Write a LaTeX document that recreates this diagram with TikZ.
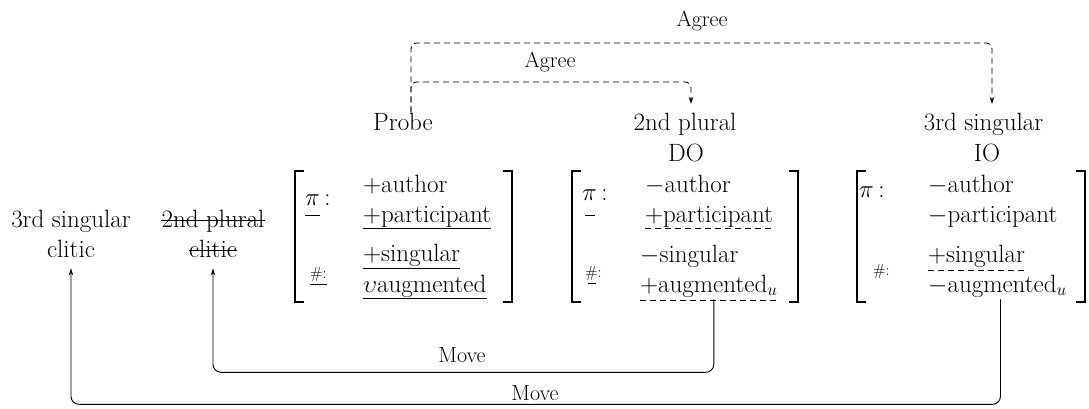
\documentclass[tikz,border=0pt]{standalone}
\usetikzlibrary{arrows.meta}
\begin{document}
\begin{tikzpicture}[x=1pt,y=-1pt,
  txt/.style={inner sep=0pt, font=\fontsize{25}{30}\selectfont},
  lbl/.style={inner sep=0pt, font=\fontsize{22}{26}\selectfont},
  sm/.style={inner sep=0pt, font=\fontsize{16}{19}\selectfont},
  agree/.style={line width=0.9pt, dash pattern=on 6pt off 4pt, rounded corners=6pt, -{Stealth[length=7pt,width=4.5pt]}},
  move/.style={line width=0.9pt, rounded corners=8pt, -{Stealth[length=7pt,width=4.5pt]}},
  brk/.style={line width=1.7pt},
  ul/.style={line width=0.9pt},
  dul/.style={line width=0.9pt, dash pattern=on 6pt off 4pt},
  strike/.style={line width=0.9pt}
]
\useasboundingbox (0,0) rectangle (1089,408);

% top labels
\node[txt, anchor=base] (probe) at (403,130) {Probe};
\node[txt, anchor=base] (dopl) at (685,130) {2nd plural};
\node[txt, anchor=base] (doo) at (686,161) {DO};
\node[txt, anchor=base] (iopl) at (983.5,130) {3rd singular};
\node[txt, anchor=base] (ioo) at (987,161) {IO};
\node[lbl] (agreeout) at (702,21) {Agree};
\node[lbl] (agreein) at (550,62) {Agree};

% clitics
\node[txt, anchor=base] (cl3a) at (71,227) {3rd singular};
\node[txt, anchor=base] (cl3b) at (71,257) {clitic};
\node[txt, anchor=base] (cl2a) at (213,227) {2nd plural};
\node[txt, anchor=base] (cl2b) at (213,257) {clitic};
\draw[strike] ([yshift=7pt]cl2a.base west) -- ([yshift=7pt]cl2a.base east);
\draw[strike] ([yshift=7pt]cl2b.base west) -- ([yshift=7pt]cl2b.base east);

% matrix 1
\draw[brk] (304,171) -- (295,171) -- (295,302) -- (304,302);
\draw[brk] (503,171) -- (512,171) -- (512,302) -- (503,302);
\node[txt, anchor=base west] (pi1) at (305,205) {$\pi$};
\node[txt, anchor=base west] (pc1) at (pi1.base east) {\,:};
\node[sm, anchor=base west] (hash1) at (310,278) {\#:};
\node[txt, anchor=base west] (a1) at (363,192) {+author};
\node[txt, anchor=base west] (p1) at (363,222) {+participant};
\node[txt, anchor=base west] (s1) at (363,261) {+singular};
\node[txt, anchor=base west] (u1) at (363,292) {$\upsilon$augmented};
\draw[ul] ([yshift=-10pt]pi1.base west) -- ([yshift=-10pt]pi1.base east);
\draw[ul] ([yshift=-6pt]hash1.base west) -- ([yshift=-6pt]hash1.base east);
\draw[ul] ([yshift=-6pt]p1.base west) -- ([yshift=-6pt]p1.base east);
\draw[ul] ([yshift=-7pt]s1.base west) -- ([yshift=-7pt]s1.base east);
\draw[ul] ([yshift=-6pt]u1.base west) -- ([yshift=-6pt]u1.base east);

% matrix 2
\draw[brk] (581,171) -- (572,171) -- (572,302) -- (581,302);
\draw[brk] (789,171) -- (798,171) -- (798,302) -- (789,302);
\node[txt, anchor=base west] (pi2) at (582,200) {$\pi$};
\node[txt, anchor=base west] (pc2) at (pi2.base east) {\,:};
\node[sm, anchor=base west] (hash2) at (585,277) {\#:};
\node[txt, anchor=base west] (a2) at (645,192) {$-$author};
\node[txt, anchor=base west] (p2) at (645,222) {+participant};
\node[txt, anchor=base west] (s2) at (640,262) {$-$singular};
\node[txt, anchor=base west] (g2) at (640,292) {+augmented$_u$};
\draw[ul] ([xshift=3pt,yshift=-15pt]pi2.base west) -- ([xshift=-2pt,yshift=-15pt]pi2.base east);
\draw[ul] ([xshift=3pt,yshift=-6pt]hash2.base west) -- ([xshift=11pt,yshift=-6pt]hash2.base west);
\draw[dul] ([yshift=-6pt]p2.base west) -- ([yshift=-6pt]p2.base east);
\draw[dul] ([yshift=-8pt]g2.base west) -- ([yshift=-8pt]g2.base east);

% matrix 3
\draw[brk] (866,171) -- (857,171) -- (857,302) -- (866,302);
\draw[brk] (1076,171) -- (1085,171) -- (1085,302) -- (1076,302);
\node[txt, anchor=base west] (pi3) at (859,197) {$\pi$};
\node[txt, anchor=base west] (pc3) at (pi3.base east) {\,:};
\node[sm, anchor=base west] (hash3) at (873,275) {\#:};
\node[txt, anchor=base west] (a3) at (928,192) {$-$author};
\node[txt, anchor=base west] (p3) at (928,222) {$-$participant};
\node[txt, anchor=base west] (s3) at (928,262) {+singular};
\node[txt, anchor=base west] (g3) at (928,292) {$-$augmented$_u$};
\draw[dul] ([yshift=-8pt]s3.base west) -- ([yshift=-8pt]s3.base east);

% Agree arrows
\draw[agree] ([xshift=8pt]probe.north) -- ++(0,-30.5) -| ([xshift=6pt,yshift=8.5pt]dopl.north);
\draw[agree] ([xshift=8pt]probe.north) -- ++(0,-69.5) -| ([xshift=8.5pt,yshift=8.5pt]iopl.north);

% Move arrows
\draw[move] ([xshift=5pt,yshift=-2pt]g2.south) -- ++(0,73) -| ([yshift=-11pt]cl2b.south);
\draw[move] ([xshift=3pt,yshift=-2pt]g3.south) -- ++(0,105) -| ([yshift=-11pt]cl3b.south);
\node[lbl] (mv1) at (462,355) {Move};
\node[lbl] (mv2) at (535,393) {Move};
\end{tikzpicture}
\end{document}
